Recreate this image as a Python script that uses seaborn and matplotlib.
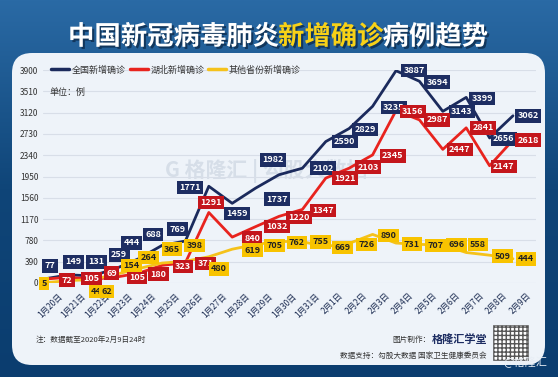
import numpy as np
import pandas as pd
import matplotlib
matplotlib.use("Agg")
import matplotlib.pyplot as plt
import matplotlib.transforms as mtransforms
import matplotlib.patheffects as pe
from matplotlib.patches import FancyBboxPatch, Rectangle
import seaborn as sns

# ==============================
# DATA
# ==============================
dates = ["1月20日", "1月21日", "1月22日", "1月23日", "1月24日", "1月25日", "1月26日",
         "1月27日", "1月28日", "1月29日", "1月30日", "1月31日", "2月1日", "2月2日",
         "2月3日", "2月4日", "2月5日", "2月6日", "2月7日", "2月8日", "2月9日"]
national = [77, 149, 131, 259, 444, 688, 769, 1771, 1459, 1737, 1982, 2102, 2590,
            2829, 3235, 3887, 3694, 3143, 3399, 2656, 3062]
hubei = [72, 105, 69, 105, 180, 323, 371, 1291, 840, 1032, 1220, 1347, 1921,
         2103, 2345, 3156, 2987, 2447, 2841, 2147, 2618]
others = [5, 44, 62, 154, 264, 365, 398, 480, 619, 705, 762, 755, 669,
          726, 890, 731, 707, 696, 558, 509, 444]
series_names = ["全国新增确诊", "湖北新增确诊", "其他省份新增确诊"]
yticks = [0, 390, 780, 1170, 1560, 1950, 2340, 2730, 3120, 3510, 3900]

# label offsets in pixels (dx, dy)
off_nat = [(5, 13), (5, 13), (5, 14), (4, 14), (-7, 16), (-9, 11), (-8, 12),
           (-19, -1), (5, -10), (21, -11), (-6, 15), (21, 0), (19, 0), (16, -1),
           (21, -1), (18, 0), (18, -1), (19, 0), (16, -1), (14, -1), (15, 0)]
off_hub = [(22, -1), (23, -1), (20, 6), (22, 0), (20, -1), (21, -1), (20, -1),
           (2, 10), (20, -1), (21, 0), (20, -1), (21, -1), (19, 0), (19, 1),
           (20, -1), (17, -1), (18, 0), (17, 0), (17, 0), (14, -1), (15, 0)]
off_oth = [(-1, -1), (28, -11), (15, -12), (16, 9), (10, 11), (10, 14), (9, 16),
           (10, -12), (20, -1), (19, -1), (18, -1), (18, 0), (17, -1), (17, -1),
           (16, -1), (16, -1), (16, -1), (14, 0), (12, 8), (13, -1), (13, 0)]

df = pd.DataFrame({"date": dates * 3,
                   "value": national + hubei + others,
                   "series": [series_names[0]] * 21 + [series_names[1]] * 21 + [series_names[2]] * 21})

line_colors = ["#1b2a5c", "#e8231e", "#f5c21b"]
box_colors = ["#1d2d62", "#c4161c", "#f8c300"]
text_colors = ["white", "white", "#222222"]

# ==============================
# FIGURE
# ==============================
sns.set_theme(style="white")
plt.rcParams["font.family"] = ["Noto Sans CJK SC", "DejaVu Sans"]

W, H = 558, 377
fig = plt.figure(figsize=(W / 100, H / 100), dpi=100)
ident = mtransforms.IdentityTransform()

# background gradient
bg = fig.add_axes([0, 0, 1, 1], zorder=-3)
grad = np.linspace(0, 1, 256).reshape(-1, 1)
cmap = matplotlib.colors.LinearSegmentedColormap.from_list("bg", ["#2a6aa5", "#0f4578", "#0b3d6f"])
bg.imshow(grad, aspect="auto", cmap=cmap, extent=[0, 1, 0, 1])
bg.set_axis_off()

# panel
panel = FancyBboxPatch((12, 12), 533, 312, boxstyle="round,pad=0,rounding_size=20",
                       transform=ident, facecolor="#eef3f9", edgecolor="none", zorder=-2)
fig.add_artist(panel)

# watermark
fig.text(165 / W, 1 - 171 / H, "G 格隆汇 | 勾股大数据", fontsize=15, color="#d6dee8",
         va="center", ha="left", fontweight="bold", zorder=-1)

# title in two colours
renderer = fig.canvas.get_renderer()
parts = [("中国新冠病毒肺炎", "white"), ("新增确诊", "#f7d117"), ("病例趋势", "white")]
shadow = [pe.withSimplePatchShadow(offset=(1.5, -1.5), shadow_rgbFace="#061a33", alpha=0.6)]
tx = 68
for txt, col in parts:
    t = fig.text(tx / W, 1 - 37 / H, txt, color=col, fontsize=19, fontweight="bold",
                 va="center", ha="left", path_effects=shadow)
    bb = t.get_window_extent(renderer)
    tx += bb.width - 1

# main axes
x0_px, step = 45, 23.4
left_px = x0_px - 0.1 * step
right_px = x0_px + 21 * step
ax = fig.add_axes([left_px / W, (H - 283) / H, (right_px - left_px) / W, 213 / H])
ax.set_facecolor("none")

sns.lineplot(data=df, x="date", y="value", hue="series", palette=line_colors,
             linewidth=2, ax=ax, sort=False)

ax.set_xlim(-0.1, 21)
ax.set_ylim(0, 3900)
ax.set_yticks(yticks)
ax.set_yticklabels([str(v) for v in yticks], fontsize=6, color="#333333")
ax.yaxis.grid(True, color="#d8dee8", linewidth=0.8)
ax.set_axisbelow(True)
for s in ax.spines.values():
    s.set_visible(False)
ax.tick_params(axis="y", length=0, pad=3)
ax.tick_params(axis="x", length=0, pad=6)
ax.set_xlabel("")
ax.set_ylabel("")
ax.set_xticks(range(len(dates)))
ax.set_xticklabels(dates, rotation=45, ha="right", rotation_mode="anchor",
                   fontsize=6, color="#1a2a50")
shift = mtransforms.ScaledTranslation(13 / 100, 0, fig.dpi_scale_trans)
for lab in ax.get_xticklabels():
    lab.set_transform(lab.get_transform() + shift)

# legend
leg = ax.legend(loc="center left", bbox_to_anchor=(0.01, 1.0), ncol=3, frameon=False,
                fontsize=6.5, handlelength=2.0, handletextpad=0.3, columnspacing=0.4,
                borderaxespad=0)
for line in leg.get_lines():
    line.set_linewidth(2.5)
for t in leg.get_texts():
    t.set_color("#333333")

fig.text(50 / W, 1 - 92 / H, "单位：例", fontsize=6.5, color="#333333",
         va="center", ha="left")

# value labels
for vals, offs, k in [(others, off_oth, 2), (hubei, off_hub, 1), (national, off_nat, 0)]:
    for i, (v, (dx, dy)) in enumerate(zip(vals, offs)):
        ax.annotate(str(v), (i, v), xytext=(dx, dy), textcoords="offset pixels",
                    ha="center", va="center", fontsize=6.5, fontweight="bold",
                    color=text_colors[k], zorder=5 + k,
                    bbox=dict(boxstyle="square,pad=0.25", facecolor=box_colors[k],
                              edgecolor="none"))

# footer
fig.text(36 / W, 1 - 340 / H, "注：数据截至2020年2月9日24时", fontsize=5.5,
         color="#333333", va="center", ha="left")
brand = fig.text(487 / W, 1 - 339 / H, "格隆汇学堂", fontsize=8, color="#1d2d62",
                 fontweight="bold", va="center", ha="right")
bw = brand.get_window_extent(renderer).width
fig.text((487 - bw - 1) / W, 1 - 340 / H, "图片制作：", fontsize=5.5, color="#333333",
         va="center", ha="right")
fig.text(487 / W, 1 - 356 / H, "数据支持：勾股大数据 国家卫生健康委员会", fontsize=5.5,
         color="#333333", va="center", ha="right")

# QR code placeholder
fig.add_artist(Rectangle((493, 17), 35, 35, transform=ident,
                         facecolor="white", edgecolor="#555555", hatch="++++",
                         linewidth=0.5, zorder=3))
fig.text(525 / W, 1 - 362 / H, "@格隆汇", fontsize=8, color="#e8eef5",
         va="center", ha="center", zorder=4)

fig.savefig("out.png", dpi=100)
